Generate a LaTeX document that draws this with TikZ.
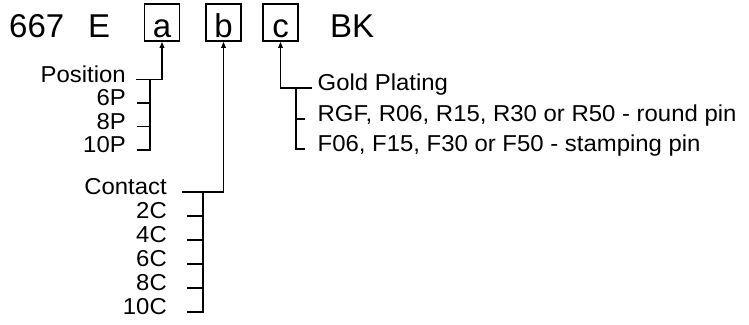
\documentclass[tikz,border=0pt]{standalone}
\usepackage{fontspec}
\setmainfont{Liberation Sans}[FakeStretch=1.04]
\newfontfamily\bigfont{Liberation Sans}
\usetikzlibrary{arrows.meta}
\begin{document}
\begin{tikzpicture}[x=1pt,y=-1pt,
  ln/.style={line width=1.6pt},
  arr/.style={ln,-{Triangle[length=6pt,width=4.5pt]}},
  big/.style={font=\bigfont\fontsize{33}{35}\selectfont, inner sep=0pt},
  box/.style={big, draw, line width=1.6pt, minimum width=35pt, text height=33pt, text depth=4pt, anchor=base},
  lbl/.style={font=\fontsize{23}{25}\selectfont, inner sep=0pt},
  lft/.style={lbl, anchor=mid east},
  rgt/.style={lbl, anchor=mid west}]
\useasboundingbox (0,0) rectangle (749,324);
% top row
\node[big, anchor=base west] (n667) at (9,37) {667};
\node[big, anchor=base west] (nE) at (88,37) {E};
\node[box] (a) at (162,37) {a};
\node[box] (b) at (223.5,37) {b};
\node[box] (c) at (280.5,37) {c};
\node[big, anchor=base west] (bk) at (330,37) {BK};
% helper x positions
\coordinate (pL) at (136,0);
\coordinate (tA) at (137,0);
\coordinate (jA) at (150,0);
\coordinate (cL) at (182,0);
\coordinate (tB) at (187,0);
\coordinate (jB) at (203,0);
\coordinate (gR) at (312,0);
\coordinate (jC) at (296,0);
\coordinate (tC) at (305,0);
% left column: position
\node[lft] (pos) at (126,79.5) {Position};
\node[lft] (p6) at (126,103) {6P};
\node[lft] (p8) at (126,126.5) {8P};
\node[lft] (p10) at (126,150) {10P};
\draw[arr] (pos.mid east -| pL) -- (pos.mid east -| a.south) -- (a.south);
\draw[ln] (pos.mid east -| jA) -- (p10.mid east -| jA) -- (p10.mid east -| tA);
\draw[ln] (p6.mid east -| tA) -- (p6.mid east -| jA);
\draw[ln] (p8.mid east -| tA) -- (p8.mid east -| jA);
% contact column
\node[lft] (con) at (167,192) {Contact};
\node[lft] (c2) at (167,216) {2C};
\node[lft] (c4) at (167,240) {4C};
\node[lft] (c6) at (167,264) {6C};
\node[lft] (c8) at (167,288) {8C};
\node[lft] (c10) at (167,312) {10C};
\draw[arr] (con.mid east -| cL) -- (con.mid east -| b.south) -- (b.south);
\draw[ln] (con.mid east -| jB) -- (c10.mid east -| jB) -- (c10.mid east -| tB);
\draw[ln] (c2.mid east -| tB) -- (c2.mid east -| jB);
\draw[ln] (c4.mid east -| tB) -- (c4.mid east -| jB);
\draw[ln] (c6.mid east -| tB) -- (c6.mid east -| jB);
\draw[ln] (c8.mid east -| tB) -- (c8.mid east -| jB);
% right column
\node[rgt] (gold) at (317.5,88) {Gold Plating};
\node[rgt] (rgf) at (317.5,119) {RGF, R06, R15, R30 or R50 - round pin};
\node[rgt] (f06) at (317.5,149) {F06, F15, F30 or F50 - stamping pin};
\draw[arr] (gold.mid west -| gR) -- (gold.mid west -| c.south) -- (c.south);
\draw[ln] (gold.mid west -| jC) -- (f06.mid west -| jC) -- (f06.mid west -| tC);
\draw[ln] (rgf.mid west -| jC) -- (rgf.mid west -| tC);
\end{tikzpicture}
\end{document}
